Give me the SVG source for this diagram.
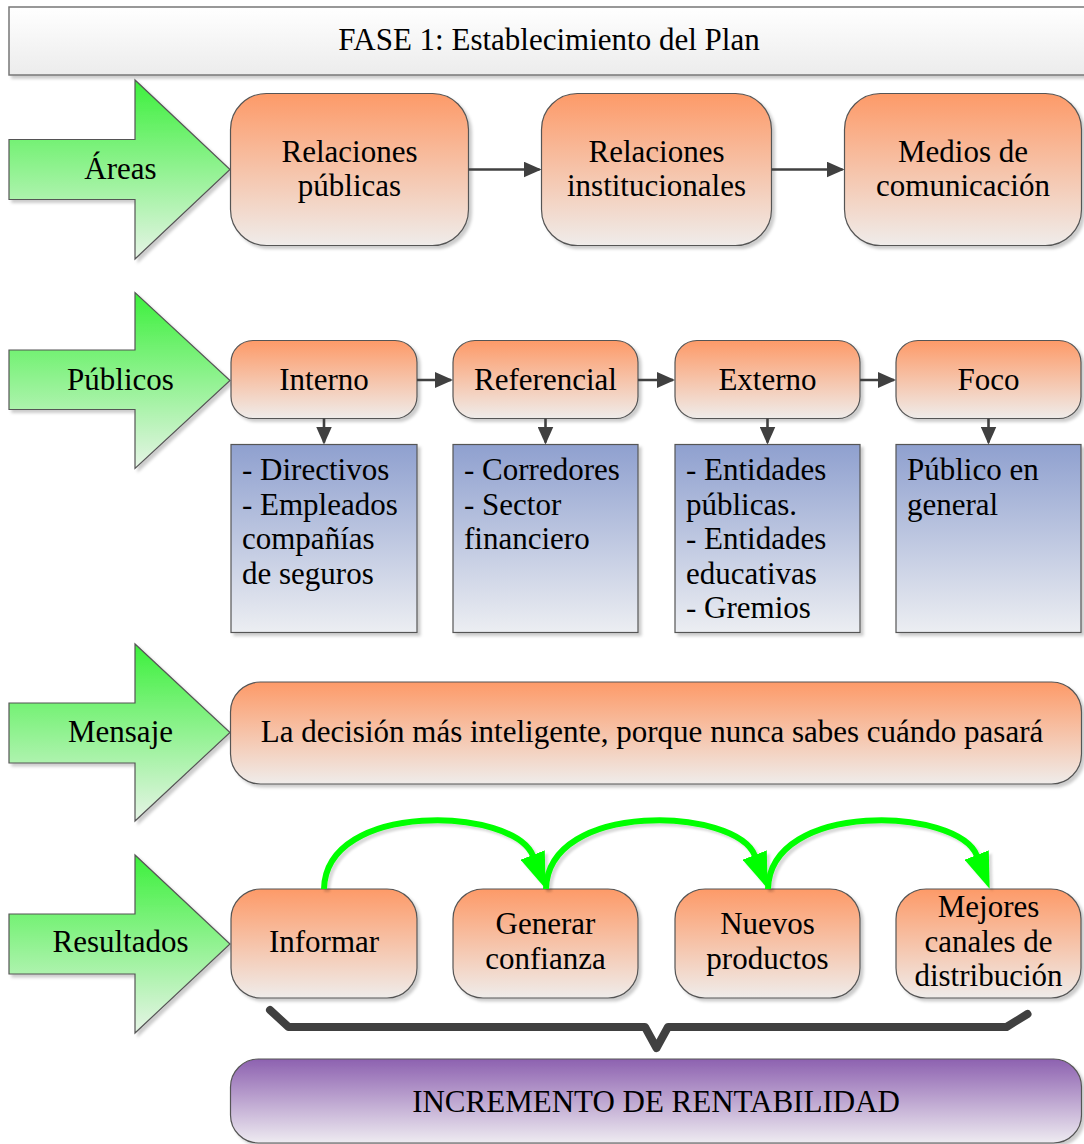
<svg xmlns="http://www.w3.org/2000/svg" width="1084" height="1144" viewBox="0 0 1084 1144">
<style>
.t{font-family:"Liberation Serif","Times New Roman",serif;font-size:31px;fill:#000}
.c{text-anchor:middle}
.ob{fill:url(#gOr);stroke:#555;stroke-width:1.2;filter:url(#sh)}
.bb{fill:url(#gBl);stroke:#555;stroke-width:1.2;filter:url(#sh)}
.ga{fill:url(#gGr);stroke:#555;stroke-width:1.2;filter:url(#sh)}
.cn{stroke:#404040;stroke-width:2.6;fill:none;marker-end:url(#ah)}
.gc{stroke:#00ff00;stroke-width:6;fill:none;marker-end:url(#gh);filter:url(#sh2)}
</style>
<defs>
<linearGradient id="gOr" x1="0" y1="0" x2="0" y2="1"><stop offset="0" stop-color="#fd9a68"/><stop offset="1" stop-color="#efecea"/></linearGradient>
<linearGradient id="gBl" x1="0" y1="0" x2="0" y2="1"><stop offset="0" stop-color="#8fa0cf"/><stop offset="1" stop-color="#eceef2"/></linearGradient>
<linearGradient id="gGr" x1="0" y1="0" x2="0" y2="1"><stop offset="0" stop-color="#3cf03c"/><stop offset="1" stop-color="#e6f4e6"/></linearGradient>
<linearGradient id="gPu" x1="0" y1="0" x2="0" y2="1"><stop offset="0" stop-color="#8d61b0"/><stop offset="1" stop-color="#eeebf1"/></linearGradient>
<linearGradient id="gTi" x1="0" y1="0" x2="0" y2="1"><stop offset="0" stop-color="#ffffff"/><stop offset="1" stop-color="#ececec"/></linearGradient>
<filter id="sh" x="-5%" y="-5%" width="115%" height="120%"><feDropShadow dx="3" dy="3" stdDeviation="1.5" flood-color="#000" flood-opacity="0.2"/></filter>
<filter id="sh2" x="-10%" y="-20%" width="130%" height="150%"><feDropShadow dx="3" dy="3" stdDeviation="1" flood-color="#000" flood-opacity="0.15"/></filter>
<marker id="ah" markerWidth="18" markerHeight="16" refX="16" refY="8" orient="auto" markerUnits="userSpaceOnUse"><path d="M0,0 L18,8 L0,16 z" fill="#404040"/></marker>
<marker id="gh" markerWidth="36" markerHeight="26" refX="1" refY="13" orient="auto" markerUnits="userSpaceOnUse"><path d="M0,0 L36,13 L0,26 z" fill="#00ff00"/></marker>
</defs>

<g id="titulo">
<rect x="9" y="7" width="1085" height="68" fill="url(#gTi)" stroke="#777" stroke-width="1.5" filter="url(#sh)"/>
<text class="t c" x="549" y="50">FASE 1: Establecimiento del Plan</text>
</g>

<g id="arrow-areas">
<polygon class="ga" points="9,139.5 135,139.5 135,80 230,169.5 135,259 135,199.5 9,199.5"/>
<text class="t c" x="120.5" y="179">Áreas</text>
</g>
<g id="arrow-publicos">
<polygon class="ga" points="9,350 135,350 135,292.5 230,380.5 135,468.5 135,409.5 9,409.5"/>
<text class="t c" x="120.5" y="389.5">Públicos</text>
</g>
<g id="arrow-mensaje">
<polygon class="ga" points="9,703 135,703 135,644 230,732.5 135,821 135,763 9,763"/>
<text class="t c" x="120.5" y="741.5">Mensaje</text>
</g>
<g id="arrow-resultados">
<polygon class="ga" points="9,914 135,914 135,855 230,944 135,1033 135,974 9,974"/>
<text class="t c" x="120.5" y="952">Resultados</text>
</g>

<g id="relaciones-publicas">
<rect class="ob" x="230.5" y="93.5" width="238" height="152" rx="36" ry="36"/>
<text class="t c" x="349.5" y="162">Relaciones<tspan x="349.5" y="195.5">públicas</tspan></text>
</g>
<g id="relaciones-institucionales">
<rect class="ob" x="541.5" y="93.5" width="230" height="152" rx="36" ry="36"/>
<text class="t c" x="656.5" y="162">Relaciones<tspan x="656.5" y="195.5">institucionales</tspan></text>
</g>
<g id="medios">
<rect class="ob" x="844.5" y="93.5" width="237" height="152" rx="36" ry="36"/>
<text class="t c" x="963" y="162">Medios de<tspan x="963" y="195.5">comunicación</tspan></text>
</g>

<g id="interno">
<rect class="ob" x="231" y="340.5" width="186" height="78" rx="22" ry="22"/>
<text class="t c" x="324" y="389.5">Interno</text>
</g>
<g id="referencial">
<rect class="ob" x="453" y="340.5" width="185" height="78" rx="22" ry="22"/>
<text class="t c" x="545.5" y="389.5">Referencial</text>
</g>
<g id="externo">
<rect class="ob" x="675" y="340.5" width="185" height="78" rx="22" ry="22"/>
<text class="t c" x="767.5" y="389.5">Externo</text>
</g>
<g id="foco">
<rect class="ob" x="896" y="340.5" width="185" height="78" rx="22" ry="22"/>
<text class="t c" x="988.5" y="389.5">Foco</text>
</g>

<g id="lista-interno">
<rect class="bb" x="231" y="444.5" width="186" height="188"/>
<text class="t" x="242" y="480">- Directivos<tspan x="242" y="514.5">- Empleados</tspan><tspan x="242" y="549">compañías</tspan><tspan x="242" y="583.5">de seguros</tspan></text>
</g>
<g id="lista-referencial">
<rect class="bb" x="453" y="444.5" width="185" height="188"/>
<text class="t" x="464" y="480">- Corredores<tspan x="464" y="514.5">- Sector</tspan><tspan x="464" y="549">financiero</tspan></text>
</g>
<g id="lista-externo">
<rect class="bb" x="675" y="444.5" width="185" height="188"/>
<text class="t" x="686" y="480">- Entidades<tspan x="686" y="514.5">públicas.</tspan><tspan x="686" y="549">- Entidades</tspan><tspan x="686" y="583.5">educativas</tspan><tspan x="686" y="618">- Gremios</tspan></text>
</g>
<g id="lista-foco">
<rect class="bb" x="896" y="444.5" width="185" height="188"/>
<text class="t" x="907" y="480">Público en<tspan x="907" y="514.5">general</tspan></text>
</g>

<g id="mensaje">
<rect class="ob" x="230.5" y="682" width="851" height="102" rx="30" ry="30"/>
<text class="t c" x="652" y="741.5">La decisión más inteligente, porque nunca sabes cuándo pasará</text>
</g>

<g id="informar">
<rect class="ob" x="231" y="889" width="186" height="109" rx="30" ry="30"/>
<text class="t c" x="324" y="952">Informar</text>
</g>
<g id="generar-confianza">
<rect class="ob" x="453" y="889" width="185" height="109" rx="30" ry="30"/>
<text class="t c" x="545.5" y="934">Generar<tspan x="545.5" y="969">confianza</tspan></text>
</g>
<g id="nuevos-productos">
<rect class="ob" x="675" y="889" width="185" height="109" rx="30" ry="30"/>
<text class="t c" x="767.5" y="934">Nuevos<tspan x="767.5" y="969">productos</tspan></text>
</g>
<g id="mejores-canales">
<rect class="ob" x="896" y="889" width="185" height="109" rx="30" ry="30"/>
<text class="t c" x="988.5" y="917">Mejores<tspan x="988.5" y="951.5">canales de</tspan><tspan x="988.5" y="985.5">distribución</tspan></text>
</g>

<g id="incremento">
<rect x="230.5" y="1059" width="851" height="84" rx="28" ry="28" fill="url(#gPu)" stroke="#555" stroke-width="1.2" filter="url(#sh)"/>
<text class="t c" x="656" y="1112">INCREMENTO DE RENTABILIDAD</text>
</g>

<g id="connectors">
<line class="cn" x1="468.5" y1="169.5" x2="539.5" y2="169.5"/>
<line class="cn" x1="771.5" y1="169.5" x2="842.5" y2="169.5"/>
<line class="cn" x1="417" y1="380" x2="451" y2="380"/>
<line class="cn" x1="638" y1="380" x2="673" y2="380"/>
<line class="cn" x1="860" y1="380" x2="894" y2="380"/>
<line class="cn" x1="324" y1="418.5" x2="324" y2="442.5"/>
<line class="cn" x1="545.5" y1="418.5" x2="545.5" y2="442.5"/>
<line class="cn" x1="767.5" y1="418.5" x2="767.5" y2="442.5"/>
<line class="cn" x1="988.5" y1="418.5" x2="988.5" y2="442.5"/>
<path class="gc" d="M324,889 C326,800 514,807 533,856"/>
<path class="gc" d="M546,889 C548,800 736,807 755,856"/>
<path class="gc" d="M768,889 C770,800 958,807 977,856"/>
<path d="M270,1010 L288.5,1027 L645,1027 L656.5,1048 L668,1027 L1006.5,1027 L1027.5,1014" fill="none" stroke="#404040" stroke-width="8" stroke-linejoin="round" stroke-linecap="round"/>
</g>
</svg>
